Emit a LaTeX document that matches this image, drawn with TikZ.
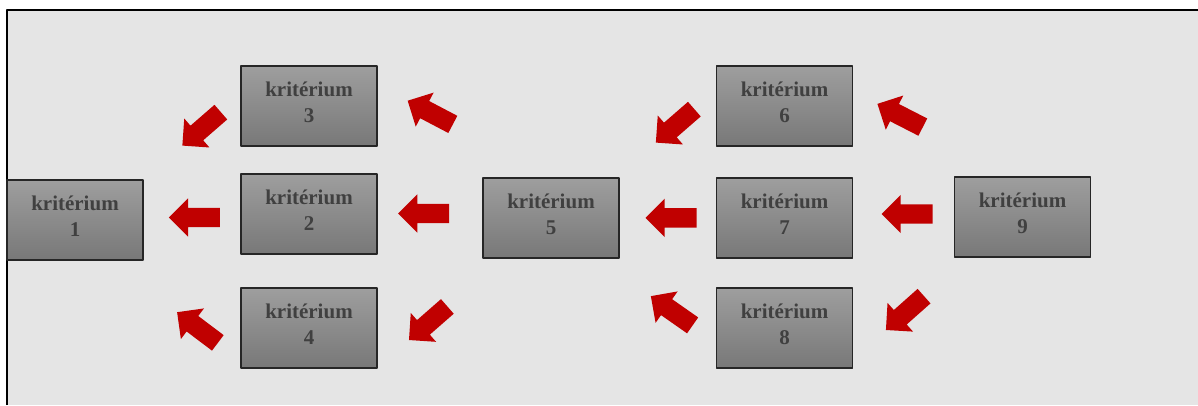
\documentclass[tikz,border=0pt]{standalone}
\usepackage{fontspec}
\setmainfont{Liberation Serif}
\usetikzlibrary{shapes.arrows}

\definecolor{fond}{HTML}{E5E5E5}
\definecolor{rouge}{HTML}{C00000}
\definecolor{texte}{HTML}{404040}

\tikzset{
  kbox/.style={draw=black!85, line width=1.2pt, top color=black!38, bottom color=black!53,
    minimum width=136pt, minimum height=80pt, inner sep=0pt, align=center,
    text=texte, font=\bfseries\fontsize{21}{25.5}\selectfont},
  redarrow/.style={single arrow, fill=rouge, draw=none, inner xsep=0pt, inner ysep=9.5pt,
    minimum height=51pt, single arrow head extend=9.5pt, single arrow tip angle=90,
    anchor=tail}
}

\begin{document}
\begin{tikzpicture}[x=1pt, y=1pt, line join=round]
    \useasboundingbox (0,0) rectangle (1198,-405);
    % background panel
    \fill[fond] (7,-10) rectangle (1198,-405);
    \draw[black, line width=1.8pt] (7,-405) -- (7,-10) -- (1198,-10);

    % criteria boxes
    \foreach \n/\x/\y in {1/75/220, 3/309/106, 2/309/214, 4/309/328, 5/551/218,
                          6/784.5/106, 7/784.5/218, 8/784.5/328, 9/1022.5/217} {
        \node[kbox] (k\n) at (\x,-\y) {krit\'erium\\\n\strut};
    }

    % red block arrows (placed by their tail)
    \foreach \n/\x/\y/\a in {31/221/112/221, 21/220/217.5/180, 41/218/343/143,
                             53/453/124.5/152.3, 52/449.3/213.5/180, 54/447.5/306.3/221.2,
                             65/694.5/109/221, 75/696.7/217.8/180, 85/692.8/325.5/145,
                             96/923/127.2/152.9, 97/932.7/214/180, 98/924.2/296/221.6} {
        \node[redarrow, rotate=\a] (arr\n) at (\x,-\y) {};
    }

\end{tikzpicture}
\end{document}
